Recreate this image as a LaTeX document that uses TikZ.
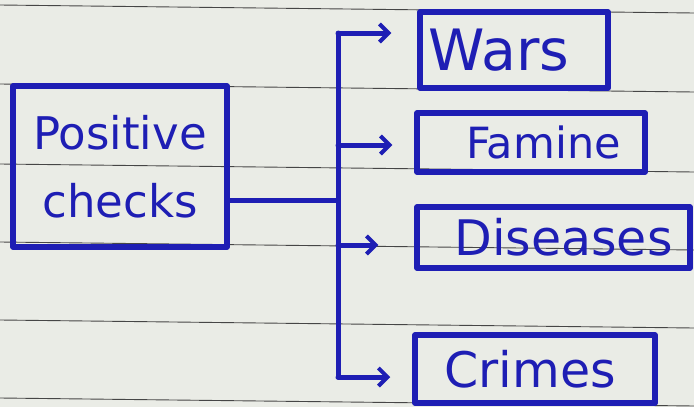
\documentclass[tikz,border=0pt]{standalone}
\usepackage{fontspec}
\setmainfont{DejaVu Sans}
\usetikzlibrary{arrows.meta}
\definecolor{ink}{RGB}{30,30,180}
\definecolor{paper}{RGB}{234,236,230}
\definecolor{rule}{RGB}{70,70,70}
\tikzset{
  box/.style={draw=ink, line width=5.5pt, rectangle, text=ink, inner sep=0pt, line join=round},
  wire/.style={draw=ink, line width=5pt, line cap=round, line join=round},
  arr/.style={wire, -{Straight Barb[length=9pt,width=18pt,line width=4pt]}, shorten >=26pt},
  ruled/.style={draw=rule, line width=0.9pt}
}
\begin{document}
\begin{tikzpicture}[x=1pt,y=-1pt]
\fill[paper] (0,0) rectangle (694,407);
\useasboundingbox (0,0) rectangle (694,407);
% ruled paper lines
\foreach \yy in {5,84,164,242,320,398} {
  \draw[ruled] (0,\yy) -- (694,\yy+8);
}
% boxes
\node[box, minimum width=214pt, minimum height=161pt, align=center,
      font=\fontsize{45}{68}\selectfont] (pos) at (120,166.5) {Positive\\checks};
\node[box, minimum width=188pt, minimum height=76pt,
      font=\fontsize{57}{60}\selectfont] (wars) at (514,50) {Wars\kern30pt\null};
\node[box, minimum width=228pt, minimum height=59pt,
      font=\fontsize{43}{48}\selectfont] (famine) at (531,142.5) {\hspace*{25pt}Famine};
\node[box, minimum width=273pt, minimum height=61pt,
      font=\fontsize{49}{52}\selectfont] (diseases) at (553.5,237.5) {\hspace*{20pt}Diseases};
\node[box, minimum width=240pt, minimum height=68pt,
      font=\fontsize{49}{52}\selectfont] (crimes) at (535,369) {Crimes\kern10pt\null};
% junction coordinates
\coordinate (jtop) at (338,33);
\coordinate (jfam) at (338,145);
\coordinate (jmid) at (338,200);
\coordinate (jdis) at (338,245);
\coordinate (jbot) at (338,377);
% connectors
\draw[wire] (pos.east |- jmid) -- (jmid);
\draw[wire] (jtop) -- (jbot);
\draw[arr] (jtop) -- (jtop -| wars.west);
\draw[arr, shorten >=22pt] (jfam) -- (jfam -| famine.west);
\draw[arr, shorten >=36pt] (jdis) -- (jdis -| diseases.west);
\draw[arr, shorten >=22pt] (jbot) -- (jbot -| crimes.west);
\end{tikzpicture}
\end{document}
